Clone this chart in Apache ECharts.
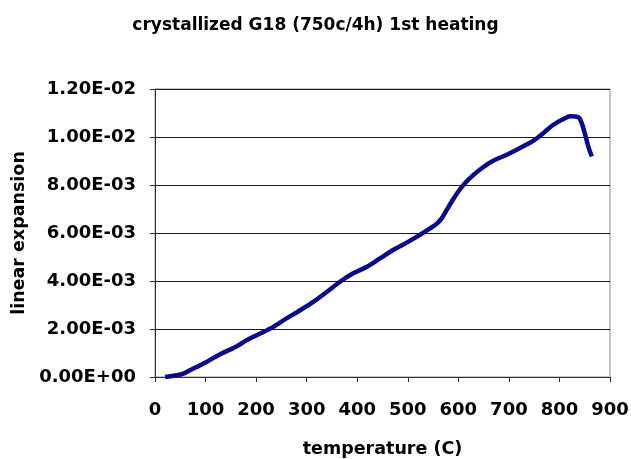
<!DOCTYPE html>
<html>
<head>
<meta charset="utf-8">
<script src="https://cdn.jsdelivr.net/npm/echarts@6/dist/echarts.min.js"></script>
<style>
  html, body { margin: 0; padding: 0; background: #ffffff; }
  #chart { width: 631px; height: 459px; }
</style>
</head>
<body>
<div id="chart"></div>
<script>
// Dilatometer run: temperature (C) against linear expansion
const temperature = [20, 43, 56, 69, 96, 129, 162, 181, 208, 234, 260, 287, 313, 340, 366, 392, 419, 445, 471, 498, 524, 544, 557, 567, 577, 587, 600, 613, 630, 649, 669, 696, 722, 748, 768, 788, 808, 821, 837, 844, 851, 857, 864];
const expansion = [0, 0.00007, 0.00014, 0.00028, 0.00056, 0.00095, 0.00128, 0.00153, 0.00181, 0.00209, 0.00244, 0.00278, 0.00313, 0.00355, 0.00397, 0.00432, 0.00459, 0.00494, 0.00529, 0.0056, 0.00592, 0.00619, 0.00638, 0.00661, 0.00696, 0.00731, 0.00773, 0.00807, 0.00842, 0.00874, 0.00901, 0.00926, 0.00954, 0.00984, 0.01016, 0.01051, 0.01075, 0.01086, 0.01083, 0.01058, 0.01009, 0.00961, 0.00919];
const xTicks = [0, 100, 200, 300, 400, 500, 600, 700, 800, 900];
const yTicks = [0, 0.002, 0.004, 0.006, 0.008, 0.01, 0.012];

const font = 'DejaVu Sans';
const points = temperature.map((t, i) => [t, expansion[i]]);

function sci(v) {
  const s = Number(v).toExponential(2).toUpperCase();
  const m = s.match(/^(-?[\d.]+)E([+-])(\d+)$/);
  return m[1] + 'E' + m[2] + m[3].padStart(2, '0');
}

const chart = echarts.init(document.getElementById('chart'), null, { renderer: 'canvas' });
chart.setOption({
  backgroundColor: '#ffffff',
  animation: false,
  title: {
    text: 'crystallized G18 (750c/4h) 1st heating',
    left: 'center',
    top: 12,
    textStyle: { fontFamily: font, fontWeight: 'bold', fontSize: 17, color: '#000' }
  },
  grid: {
    left: 155, right: 21, top: 89, bottom: 82,
    outerBoundsMode: 'none',
    containLabel: false,
    show: true, borderColor: '#8c8c8c', borderWidth: 1, backgroundColor: '#ffffff'
  },
  xAxis: {
    type: 'value',
    min: xTicks[0], max: xTicks[xTicks.length - 1], interval: 100,
    name: 'temperature (C)', nameLocation: 'middle', nameGap: 63,
    nameTextStyle: { fontFamily: font, fontWeight: 'bold', fontSize: 17.5, color: '#000' },
    axisLine: { show: true, lineStyle: { color: '#333', width: 1 } },
    axisTick: { show: true, inside: false, length: 5, lineStyle: { color: '#333' } },
    axisLabel: { margin: 24, fontFamily: font, fontWeight: 'bold', fontSize: 18, color: '#000' },
    splitLine: { show: false }
  },
  yAxis: {
    type: 'value',
    min: yTicks[0], max: yTicks[yTicks.length - 1], interval: 0.002,
    name: 'linear expansion', nameLocation: 'middle', nameGap: 127,
    nameTextStyle: { fontFamily: font, fontWeight: 'bold', fontSize: 17.5, color: '#000' },
    axisLine: { show: true, lineStyle: { color: '#333', width: 1 } },
    axisTick: { show: true, inside: false, length: 5, lineStyle: { color: '#333' } },
    axisLabel: { margin: 19, formatter: sci, fontFamily: font, fontWeight: 'bold', fontSize: 18, color: '#000' },
    splitLine: { show: true, lineStyle: { color: '#1a1a1a', width: 1 } }
  },
  series: [{
    type: 'line',
    data: points,
    smooth: 0.3,
    showSymbol: false,
    lineStyle: { color: '#0a0a8c', width: 4.5 },
    itemStyle: { color: '#0a0a8c' }
  }]
});
</script>
</body>
</html>
